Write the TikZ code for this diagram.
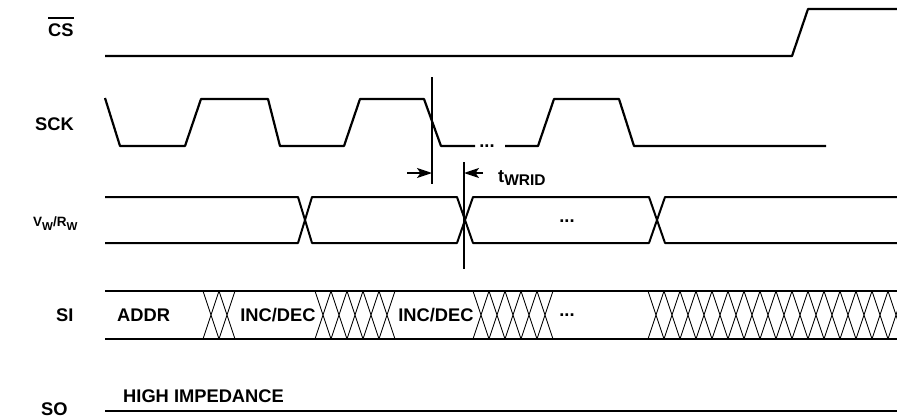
\documentclass[tikz,border=0pt]{standalone}
\usepackage{fontspec}
\setmainfont{Liberation Sans}
\usetikzlibrary{arrows.meta}

\tikzset{
  wave/.style={line width=2.2pt},
  busline/.style={line width=2.6pt},
  xing/.style={line width=0.9pt},
  marker/.style={line width=1.6pt},
  sig/.style={font=\bfseries\fontsize{18.3}{22}\selectfont, inner sep=0pt, anchor=base west},
}

\begin{document}
\begin{tikzpicture}[line join=round, x=1pt, y=-1pt]
\useasboundingbox (0,0) rectangle (897,418);
% signal names
\node[sig] (CS)  at (48,36.5) {CS};
\draw[line width=2pt] ([yshift=6pt]CS.north west) -- ([yshift=6pt]CS.north east);
\node[sig] (SCK) at (35,130.5) {SCK};
\node[sig, font=\bfseries\fontsize{13.5}{15}\selectfont] (VW) at (33,226)
  {V\raisebox{-4pt}{\fontsize{11.5}{12}\selectfont W}/R\raisebox{-4pt}{\fontsize{11.5}{12}\selectfont W}};
\node[sig] (SI)  at (56,321) {SI};
\node[sig] (SO)  at (41,415) {SO};

% CS and SCK
\draw[wave] (105,56) -- (792,56) -- (808,9) -- (897,9);
\draw[wave] (105,98) -- (120,146) -- (185,146) -- (201,99) -- (268,99) -- (280,146)
  -- (344,146) -- (360,99) -- (424,99) -- (441,146) -- (475,146);
\node[sig, anchor=base] (sckdots) at (487,147) {...};
\draw[wave] (505,146) -- (538,146) -- (554,99) -- (619,99) -- (634,146) -- (826,146);

% t_WRID markers
\coordinate (m1top) at (432,77);  \coordinate (m1bot) at (432,184);
\coordinate (m2top) at (464,162); \coordinate (m2bot) at (464,269);
\coordinate (a1) at (407,173);    \coordinate (a2) at (483,173);
\draw[marker] (m1top) -- (m1bot);
\draw[marker] (m2top) -- (m2bot);
\draw[marker, -{Stealth[length=15pt, width=10pt, inset=3.5pt]}] (a1) -- (m1top |- a1);
\draw[marker, -{Stealth[length=15pt, width=10pt, inset=3.5pt]}] (a2) -- (m2top |- a2);
\node[sig] (twrid) at (498,182) {t\raisebox{-3pt}{\fontsize{15.5}{16}\selectfont WRID}};

% VW/RW
\draw[wave, line width=2pt] (105,197) -- (298,197) -- (312,243) -- (457,243) -- (473,197)
  -- (649,197) -- (665,243) -- (897,243);
\draw[wave, line width=2pt] (105,243) -- (298,243) -- (312,197) -- (457,197) -- (473,243)
  -- (649,243) -- (665,197) -- (897,197);
\node[sig, anchor=base] (vwdots) at (567,222) {...};

% SI
\draw[busline] (105,291) -- (897,291);
\draw[busline] (105,339) -- (897,339);
\foreach \x in {203,219,315,331,347,363,379,473,489,505,521,537}
  \draw[xing] (\x,291) -- (\x+16,339) (\x,339) -- (\x+16,291);
\begin{scope}
  \clip (640,280) rectangle (897,350);
  \foreach \i in {0,...,15}
    \draw[xing] (648+16*\i,291) -- (664+16*\i,339) (648+16*\i,339) -- (664+16*\i,291);
\end{scope}
\node[sig] (addr) at (117,321) {ADDR};
\node[sig, anchor=base] (incdec1) at (278,321) {INC/DEC};
\node[sig, anchor=base] (incdec2) at (436,321) {INC/DEC};
\node[sig, anchor=base] (sidots) at (567,316) {...};

% SO
\draw[busline] (105,411) -- (897,411);
\node[sig] (hiz) at (123,402) {HIGH IMPEDANCE};
\end{tikzpicture}
\end{document}
